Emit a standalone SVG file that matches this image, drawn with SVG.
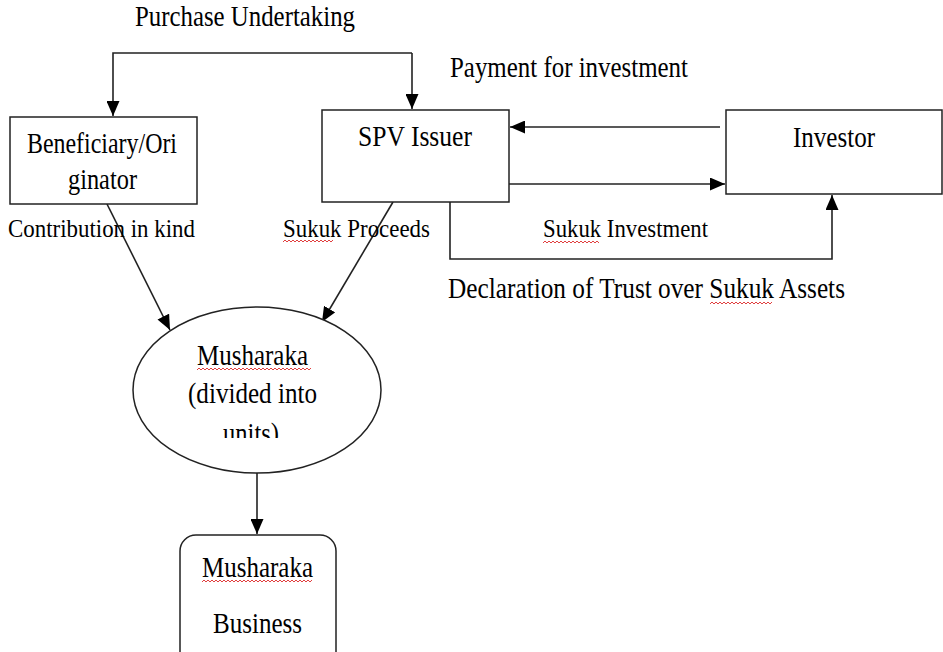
<svg xmlns="http://www.w3.org/2000/svg" width="943" height="652" viewBox="0 0 943 652">
<style>
.box{fill:#fff;stroke:#222;stroke-width:1.5}
.ln{fill:none;stroke:#222;stroke-width:1.6}
.big{font-size:29px}
.sm{font-size:26px}
.sq{fill:none;stroke:#e04040;stroke-width:1}
</style>
<defs>
<marker id="ah" markerWidth="15" markerHeight="13" refX="15" refY="6.5" orient="auto" markerUnits="userSpaceOnUse">
<path d="M0,0 L15,6.5 L0,13 Z" fill="#000"/>
</marker>
<clipPath id="cut"><rect x="0" y="0" width="943" height="438"/></clipPath>
</defs>
<rect width="943" height="652" fill="#fff"/>

<g id="connectors">
<path class="ln" d="M412,53 L113,53 L113,116" marker-end="url(#ah)"/>
<path class="ln" d="M412,53 L412,109" marker-end="url(#ah)"/>
<path class="ln" d="M720,127 L510,127" marker-end="url(#ah)"/>
<path class="ln" d="M509,184 L725,184" marker-end="url(#ah)"/>
<path class="ln" d="M450,202 L450,259 L832,259 L832,195" marker-end="url(#ah)"/>
<path class="ln" d="M107,204 L170,330" marker-end="url(#ah)"/>
<path class="ln" d="M393,202 L322,322" marker-end="url(#ah)"/>
<path class="ln" d="M257,473 L257,534" marker-end="url(#ah)"/>
</g>

<g font-family="'Liberation Serif', 'Times New Roman', 'DejaVu Serif', serif" fill="#000">
<g id="beneficiary">
<rect class="box" x="10" y="117" width="187" height="87"/>
<text class="big" x="27" y="153" textLength="150" lengthAdjust="spacingAndGlyphs">Beneficiary/Ori</text>
<text class="big" x="68" y="189" textLength="69" lengthAdjust="spacingAndGlyphs">ginator</text>
</g>

<g id="spv">
<rect class="box" x="322" y="110" width="187" height="92"/>
<text class="big" x="358" y="146" textLength="114" lengthAdjust="spacingAndGlyphs">SPV Issuer</text>
</g>

<g id="investor">
<rect class="box" x="726" y="110" width="216" height="84"/>
<text class="big" x="793" y="147" textLength="82" lengthAdjust="spacingAndGlyphs">Investor</text>
</g>

<g id="musharaka">
<ellipse class="box" cx="257" cy="390" rx="124" ry="83"/>
<text class="big" x="197" y="365" textLength="111" lengthAdjust="spacingAndGlyphs">Musharaka</text>
<text class="big" x="188" y="403" textLength="129" lengthAdjust="spacingAndGlyphs">(divided into</text>
<text class="big" x="223" y="443" textLength="56" lengthAdjust="spacingAndGlyphs" clip-path="url(#cut)">units)</text>
</g>

<g id="business">
<rect class="box" x="180" y="535" width="156" height="140" rx="16"/>
<text class="big" x="202" y="577" textLength="111" lengthAdjust="spacingAndGlyphs">Musharaka</text>
<text class="big" x="213" y="633" textLength="89" lengthAdjust="spacingAndGlyphs">Business</text>
</g>

<g id="labels">
<text class="big" x="135" y="26" textLength="220" lengthAdjust="spacingAndGlyphs">Purchase Undertaking</text>
<text class="big" x="450" y="77" textLength="238" lengthAdjust="spacingAndGlyphs">Payment for investment</text>
<text class="sm" x="8" y="237" textLength="187" lengthAdjust="spacingAndGlyphs">Contribution in kind</text>
<text class="sm" x="283" y="237" textLength="147" lengthAdjust="spacingAndGlyphs">Sukuk Proceeds</text>
<text class="sm" x="543" y="237" textLength="165" lengthAdjust="spacingAndGlyphs">Sukuk Investment</text>
<text class="big" x="448" y="298" textLength="397" lengthAdjust="spacingAndGlyphs">Declaration of Trust over Sukuk Assets</text>
</g>
</g>

<g id="spellcheck">
<path class="sq" d="M283,242 l2,-2 l2,2 l2,-2 l2,2 l2,-2 l2,2 l2,-2 l2,2 l2,-2 l2,2 l2,-2 l2,2 l2,-2 l2,2 l2,-2 l2,2 l2,-2 l2,2 l2,-2 l2,2 l2,-2 l2,2 l2,-2 l2,2 l2,-2"/>
<path class="sq" d="M543,243 l2,-2 l2,2 l2,-2 l2,2 l2,-2 l2,2 l2,-2 l2,2 l2,-2 l2,2 l2,-2 l2,2 l2,-2 l2,2 l2,-2 l2,2 l2,-2 l2,2 l2,-2 l2,2 l2,-2 l2,2 l2,-2 l2,2 l2,-2 l2,2 l2,-2 l2,2"/>
<path class="sq" d="M710,304 l2,-2 l2,2 l2,-2 l2,2 l2,-2 l2,2 l2,-2 l2,2 l2,-2 l2,2 l2,-2 l2,2 l2,-2 l2,2 l2,-2 l2,2 l2,-2 l2,2 l2,-2 l2,2 l2,-2 l2,2 l2,-2 l2,2 l2,-2 l2,2 l2,-2 l2,2 l2,-2 l2,2 l2,-2"/>
<path class="sq" d="M197,370 l2,-2 l2,2 l2,-2 l2,2 l2,-2 l2,2 l2,-2 l2,2 l2,-2 l2,2 l2,-2 l2,2 l2,-2 l2,2 l2,-2 l2,2 l2,-2 l2,2 l2,-2 l2,2 l2,-2 l2,2 l2,-2 l2,2 l2,-2 l2,2 l2,-2 l2,2 l2,-2 l2,2 l2,-2 l2,2 l2,-2 l2,2 l2,-2 l2,2 l2,-2 l2,2 l2,-2 l2,2 l2,-2 l2,2 l2,-2 l2,2 l2,-2 l2,2 l2,-2 l2,2 l2,-2 l2,2 l2,-2 l2,2 l2,-2 l2,2 l2,-2 l2,2 l2,-2"/>
<path class="sq" d="M202,582 l2,-2 l2,2 l2,-2 l2,2 l2,-2 l2,2 l2,-2 l2,2 l2,-2 l2,2 l2,-2 l2,2 l2,-2 l2,2 l2,-2 l2,2 l2,-2 l2,2 l2,-2 l2,2 l2,-2 l2,2 l2,-2 l2,2 l2,-2 l2,2 l2,-2 l2,2 l2,-2 l2,2 l2,-2 l2,2 l2,-2 l2,2 l2,-2 l2,2 l2,-2 l2,2 l2,-2 l2,2 l2,-2 l2,2 l2,-2 l2,2 l2,-2 l2,2 l2,-2 l2,2 l2,-2 l2,2 l2,-2 l2,2 l2,-2 l2,2 l2,-2"/>
</g>
</svg>
